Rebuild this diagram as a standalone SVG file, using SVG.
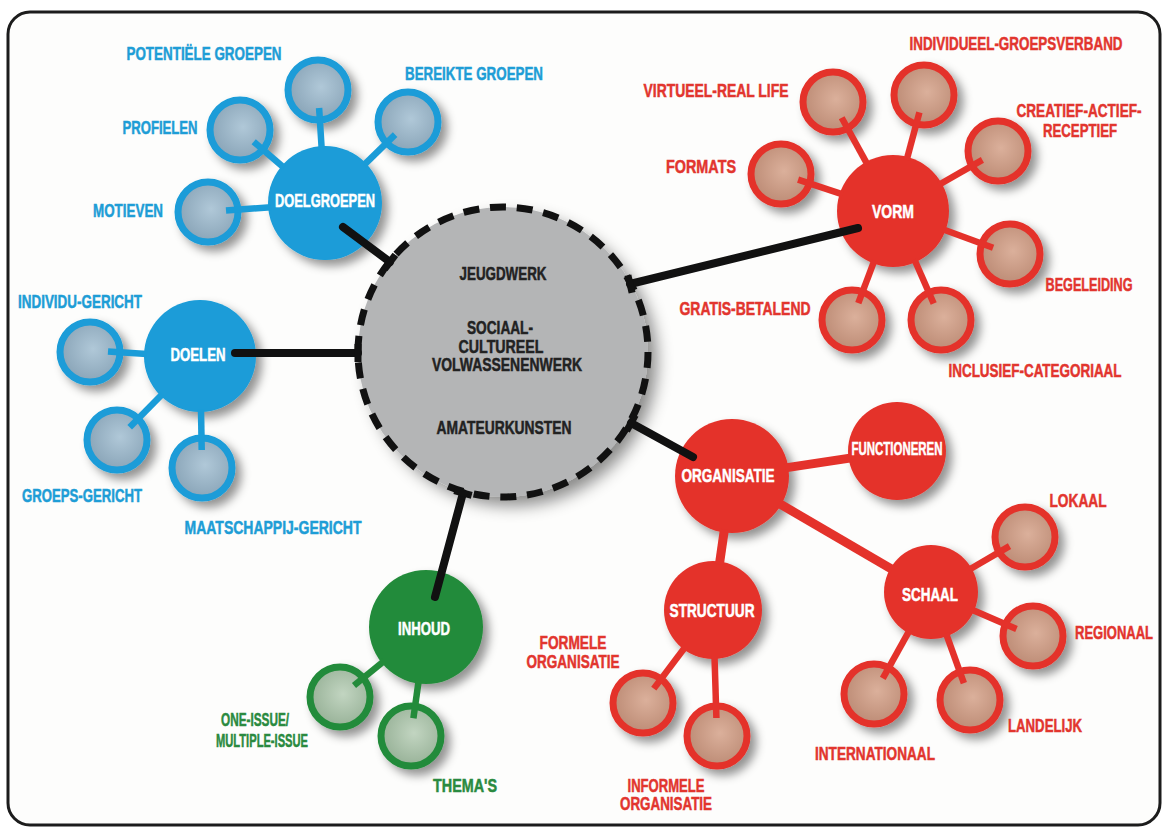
<svg xmlns="http://www.w3.org/2000/svg" width="1168" height="831" viewBox="0 0 1168 831">
<defs>
<style>
.t{font-family:"Liberation Sans",Arial,sans-serif;font-weight:bold;font-size:18px;text-anchor:middle;stroke-width:0.5}
.tb{fill:#1e9dd6;stroke:#1e9dd6}.tr{fill:#e2352e;stroke:#e2352e}.tg{fill:#2a8a40;stroke:#2a8a40}.tw{fill:#ffffff;stroke:#ffffff}.tk{fill:#222222;stroke:#222222}
.nb{fill:#1a9cd8}.nr{fill:#e4322b}.ng{fill:#238b3a}
.sb{fill:url(#gb);stroke:#1a9cd8;stroke-width:7}
.sr{fill:url(#gr);stroke:#e4322b;stroke-width:7}
.sg{fill:url(#gg);stroke:#238b3a;stroke-width:7}
.cb{stroke:#1a9cd8;stroke-width:6.5;fill:none}
.cr{stroke:#e4322b;stroke-width:6.5;fill:none}
.crw{stroke:#e4322b;stroke-width:9;fill:none}
.cg{stroke:#238b3a;stroke-width:6.5;fill:none}
.ck{stroke:#111;stroke-width:8;stroke-linecap:round;fill:none}
.kb{stroke:#111;stroke-width:7;fill:none}
</style>
<radialGradient id="gb" cx="55%" cy="45%" r="55%"><stop offset="0" stop-color="#b0c8d8"/><stop offset="1" stop-color="#8aa5b8"/></radialGradient>
<radialGradient id="gr" cx="55%" cy="45%" r="55%"><stop offset="0" stop-color="#dbb09b"/><stop offset="1" stop-color="#bd8c76"/></radialGradient>
<radialGradient id="gg" cx="55%" cy="45%" r="55%"><stop offset="0" stop-color="#c2d5c1"/><stop offset="1" stop-color="#98b298"/></radialGradient>
<filter id="sh" x="-40%" y="-40%" width="190%" height="190%"><feDropShadow dx="6" dy="6" stdDeviation="5" flood-color="#000" flood-opacity="0.42"/></filter>
<filter id="shc" x="-30%" y="-30%" width="170%" height="170%"><feDropShadow dx="9" dy="9" stdDeviation="8" flood-color="#000" flood-opacity="0.45"/></filter>
</defs>
<rect x="0" y="0" width="1168" height="831" fill="#ffffff"/>
<rect x="8" y="12" width="1152" height="813" rx="22" fill="#fdfdfc" stroke="#1c1c1c" stroke-width="3"/>

<g id="center">
<circle cx="503" cy="352" r="145" fill="#b4b5b6" filter="url(#shc)"/>
<circle cx="503" cy="352" r="145" fill="none" stroke="#111" stroke-width="7" stroke-dasharray="16 10.8"/>
<text class="t tk" transform="translate(503,279.5)scale(.75,1)" textLength="116" lengthAdjust="spacingAndGlyphs">JEUGDWERK</text>
<text class="t tk" transform="translate(500,333.5)scale(.75,1)" textLength="88" lengthAdjust="spacingAndGlyphs">SOCIAAL-</text>
<text class="t tk" transform="translate(501,352.5)scale(.75,1)" textLength="113.3" lengthAdjust="spacingAndGlyphs">CULTUREEL</text>
<text class="t tk" transform="translate(507,370.5)scale(.75,1)" textLength="200" lengthAdjust="spacingAndGlyphs">VOLWASSENENWERK</text>
<text class="t tk" transform="translate(504,433.5)scale(.75,1)" textLength="180" lengthAdjust="spacingAndGlyphs">AMATEURKUNSTEN</text>
</g>

<g id="doelgroepen" filter="url(#sh)">
<circle class="sb" cx="318" cy="90" r="30"/>
<circle class="sb" cx="408" cy="122" r="30"/>
<circle class="sb" cx="240" cy="130" r="30"/>
<circle class="sb" cx="208" cy="212" r="30"/>
<circle class="nb" cx="325" cy="203" r="57"/>
</g>
<g id="doelgroepen-labels">
<text class="t tw" transform="translate(325,206.5)scale(.75,1)" textLength="133.3" lengthAdjust="spacingAndGlyphs">DOELGROEPEN</text>
<text class="t tb" transform="translate(204,59.5)scale(.75,1)" textLength="206.7" lengthAdjust="spacingAndGlyphs">POTENTIËLE GROEPEN</text>
<text class="t tb" transform="translate(474,79.5)scale(.75,1)" textLength="184" lengthAdjust="spacingAndGlyphs">BEREIKTE GROEPEN</text>
<text class="t tb" transform="translate(160,133.5)scale(.75,1)" textLength="100" lengthAdjust="spacingAndGlyphs">PROFIELEN</text>
<text class="t tb" transform="translate(128,216.5)scale(.75,1)" textLength="93.3" lengthAdjust="spacingAndGlyphs">MOTIEVEN</text>
</g>

<g id="doelen" filter="url(#sh)">
<circle class="sb" cx="90" cy="352" r="30"/>
<circle class="sb" cx="117" cy="440" r="30"/>
<circle class="sb" cx="202" cy="468" r="30"/>
<circle class="nb" cx="200" cy="356" r="56"/>
</g>
<g id="doelen-labels">
<text class="t tw" transform="translate(198,360.5)scale(.75,1)" textLength="73.3" lengthAdjust="spacingAndGlyphs">DOELEN</text>
<text class="t tb" transform="translate(80,307.5)scale(.75,1)" textLength="165.3" lengthAdjust="spacingAndGlyphs">INDIVIDU-GERICHT</text>
<text class="t tb" transform="translate(82,501.5)scale(.75,1)" textLength="160" lengthAdjust="spacingAndGlyphs">GROEPS-GERICHT</text>
<text class="t tb" transform="translate(273,533.5)scale(.75,1)" textLength="236" lengthAdjust="spacingAndGlyphs">MAATSCHAPPIJ-GERICHT</text>
</g>

<g id="vorm" filter="url(#sh)">
<circle class="sr" cx="833" cy="102" r="30"/>
<circle class="sr" cx="924" cy="95" r="30"/>
<circle class="sr" cx="998" cy="151" r="30"/>
<circle class="sr" cx="781" cy="174" r="30"/>
<circle class="sr" cx="1010" cy="254" r="30"/>
<circle class="sr" cx="852" cy="320" r="30"/>
<circle class="sr" cx="941" cy="320" r="30"/>
<circle class="nr" cx="893" cy="211" r="56"/>
</g>
<g id="vorm-labels">
<text class="t tw" transform="translate(893,217.5)scale(.75,1)" textLength="56" lengthAdjust="spacingAndGlyphs">VORM</text>
<text class="t tr" transform="translate(1016,49.5)scale(.75,1)" textLength="284" lengthAdjust="spacingAndGlyphs">INDIVIDUEEL-GROEPSVERBAND</text>
<text class="t tr" transform="translate(716,96.5)scale(.75,1)" textLength="193.3" lengthAdjust="spacingAndGlyphs">VIRTUEEL-REAL LIFE</text>
<text class="t tr" transform="translate(1079,116.5)scale(.75,1)" textLength="166.7" lengthAdjust="spacingAndGlyphs">CREATIEF-ACTIEF-</text>
<text class="t tr" transform="translate(1080,136.5)scale(.75,1)" textLength="98.7" lengthAdjust="spacingAndGlyphs">RECEPTIEF</text>
<text class="t tr" transform="translate(701,172.5)scale(.75,1)" textLength="93.3" lengthAdjust="spacingAndGlyphs">FORMATS</text>
<text class="t tr" transform="translate(1089,290.5)scale(.75,1)" textLength="116" lengthAdjust="spacingAndGlyphs">BEGELEIDING</text>
<text class="t tr" transform="translate(745,314.5)scale(.75,1)" textLength="174.7" lengthAdjust="spacingAndGlyphs">GRATIS-BETALEND</text>
<text class="t tr" transform="translate(1035,376.5)scale(.75,1)" textLength="230.7" lengthAdjust="spacingAndGlyphs">INCLUSIEF-CATEGORIAAL</text>
</g>

<g id="organisatie" filter="url(#sh)">
<circle class="sr" cx="643" cy="703" r="30"/>
<circle class="sr" cx="717" cy="736" r="30"/>
<circle class="sr" cx="1025" cy="537" r="30"/>
<circle class="sr" cx="1033" cy="636" r="30"/>
<circle class="sr" cx="970" cy="700" r="30"/>
<circle class="sr" cx="874" cy="694" r="30"/>
<circle class="nr" cx="897" cy="451" r="49"/>
<circle class="nr" cx="713" cy="610" r="49"/>
<circle class="nr" cx="931" cy="592" r="47"/>
<circle class="nr" cx="732" cy="476" r="57"/>
</g>
<g id="organisatie-labels">
<text class="t tw" transform="translate(728,481.5)scale(.75,1)" textLength="124" lengthAdjust="spacingAndGlyphs">ORGANISATIE</text>
<text class="t tw" transform="translate(897,454.5)scale(.75,1)" textLength="121.3" lengthAdjust="spacingAndGlyphs">FUNCTIONEREN</text>
<text class="t tw" transform="translate(712,616.5)scale(.75,1)" textLength="113.3" lengthAdjust="spacingAndGlyphs">STRUCTUUR</text>
<text class="t tw" transform="translate(930,600.5)scale(.75,1)" textLength="74.7" lengthAdjust="spacingAndGlyphs">SCHAAL</text>
<text class="t tr" transform="translate(573,648.5)scale(.75,1)" textLength="89.3" lengthAdjust="spacingAndGlyphs">FORMELE</text>
<text class="t tr" transform="translate(573,667.5)scale(.75,1)" textLength="124" lengthAdjust="spacingAndGlyphs">ORGANISATIE</text>
<text class="t tr" transform="translate(666,791.5)scale(.75,1)" textLength="102.7" lengthAdjust="spacingAndGlyphs">INFORMELE</text>
<text class="t tr" transform="translate(666,809.5)scale(.75,1)" textLength="122.7" lengthAdjust="spacingAndGlyphs">ORGANISATIE</text>
<text class="t tr" transform="translate(1078,506.5)scale(.75,1)" textLength="76" lengthAdjust="spacingAndGlyphs">LOKAAL</text>
<text class="t tr" transform="translate(1114,638.5)scale(.75,1)" textLength="104" lengthAdjust="spacingAndGlyphs">REGIONAAL</text>
<text class="t tr" transform="translate(1045,731.5)scale(.75,1)" textLength="98.7" lengthAdjust="spacingAndGlyphs">LANDELIJK</text>
<text class="t tr" transform="translate(875,759.5)scale(.75,1)" textLength="160" lengthAdjust="spacingAndGlyphs">INTERNATIONAAL</text>
</g>

<g id="inhoud" filter="url(#sh)">
<circle class="sg" cx="340" cy="697" r="30"/>
<circle class="sg" cx="411" cy="736" r="30"/>
<circle class="ng" cx="426" cy="627" r="57"/>
</g>
<g id="inhoud-labels">
<text class="t tw" transform="translate(424,634.5)scale(.75,1)" textLength="69.3" lengthAdjust="spacingAndGlyphs">INHOUD</text>
<text class="t tg" transform="translate(255,725.5)scale(.75,1)" textLength="90.7" lengthAdjust="spacingAndGlyphs">ONE-ISSUE/</text>
<text class="t tg" transform="translate(262,746.5)scale(.75,1)" textLength="122.7" lengthAdjust="spacingAndGlyphs">MULTIPLE-ISSUE</text>
<text class="t tg" transform="translate(465,791.5)scale(.75,1)" textLength="85.3" lengthAdjust="spacingAndGlyphs">THEMA'S</text>
</g>

<g id="connectors">
<line class="cb" x1="321.7" y1="149.1" x2="319.1" y2="108"/>
<line class="cb" x1="363.6" y1="165.3" x2="395.1" y2="134.6"/>
<line class="cb" x1="284" y1="167.8" x2="253.7" y2="141.7"/>
<line class="cb" x1="271.1" y1="207.2" x2="226" y2="210.6"/>
<line class="cb" x1="147" y1="354.1" x2="108" y2="351.4"/>
<line class="cb" x1="162.7" y1="393.7" x2="129.7" y2="427.2"/>
<line class="cb" x1="201" y1="409" x2="201.7" y2="450"/>
<line class="cr" x1="867.5" y1="164.6" x2="841.7" y2="117.8"/>
<line class="cr" x1="906.7" y1="159.8" x2="919.4" y2="112.4"/>
<line class="cr" x1="939" y1="184.7" x2="982.4" y2="159.9"/>
<line class="cr" x1="842.7" y1="194.4" x2="798.1" y2="179.6"/>
<line class="cr" x1="942.7" y1="229.3" x2="993.1" y2="247.8"/>
<line class="cr" x1="874.3" y1="260.6" x2="858.3" y2="303.2"/>
<line class="cr" x1="914.4" y1="259.5" x2="933.7" y2="303.5"/>
<line class="crw" x1="785.4" y1="467.9" x2="851.5" y2="457.9"/>
<line class="crw" x1="724.4" y1="529.5" x2="719.4" y2="564.4"/>
<line class="crw" x1="778.7" y1="503.2" x2="892.1" y2="569.3"/>
<line class="cr" x1="685.4" y1="646.8" x2="653.8" y2="688.6"/>
<line class="cr" x1="714.5" y1="656" x2="716.4" y2="718"/>
<line class="cr" x1="969" y1="569.8" x2="1009.5" y2="546.1"/>
<line class="cr" x1="971.4" y1="609.4" x2="1016.5" y2="628.9"/>
<line class="cr" x1="946" y1="633.4" x2="963.9" y2="683.1"/>
<line class="cr" x1="909.5" y1="630.4" x2="882.8" y2="678.3"/>
<line class="cg" x1="384.1" y1="661.1" x2="354" y2="685.6"/>
<line class="cg" x1="418.7" y1="680.5" x2="413.4" y2="718.2"/>
<line class="ck" x1="343" y1="227" x2="390" y2="262"/>
<line class="kb" x1="384.6" y1="269.2" x2="395.4" y2="254.8"/>
<line class="ck" x1="235" y1="353" x2="358" y2="353"/>
<line class="kb" x1="358" y1="344" x2="358" y2="362"/>
<line class="ck" x1="858" y1="228" x2="630" y2="284"/>
<line class="kb" x1="627.9" y1="275.3" x2="632.1" y2="292.7"/>
<line class="ck" x1="693" y1="457" x2="631" y2="423"/>
<line class="kb" x1="626.7" y1="430.9" x2="635.3" y2="415.1"/>
<line class="ck" x1="435" y1="597" x2="463" y2="493"/>
<line class="kb" x1="454.3" y1="490.7" x2="471.7" y2="495.3"/>
</g>
</svg>
